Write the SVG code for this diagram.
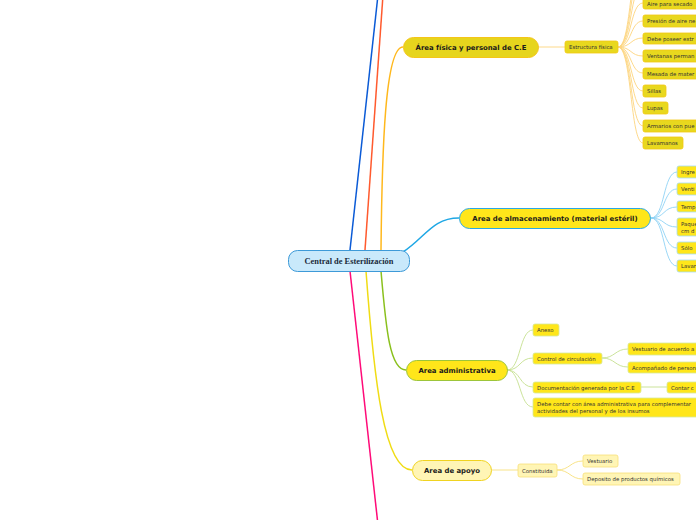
<svg xmlns="http://www.w3.org/2000/svg" width="696" height="520" viewBox="0 0 696 520">
<style>
.c{fill:none;stroke-width:1.5}
.s{fill:none;stroke-width:0.9}
.t{font-family:"DejaVu Sans",Verdana,sans-serif;font-size:5.4px;fill:#333;dominant-baseline:central}
.m{font-family:"DejaVu Sans",Verdana,sans-serif;font-size:6.9px;font-weight:bold;fill:#1a1a1a;text-anchor:middle;dominant-baseline:central}
.lf{fill:#e8d81e;stroke:#f2c811;stroke-width:0.8}
.la{fill:#ffe61a;stroke:#a5dcf5;stroke-width:0.8}
.ld{fill:#ffe61a;stroke:#d6e89c;stroke-width:0.8}
.lp{fill:#fff5b5;stroke:#f7e07a;stroke-width:0.8}
</style>
<rect width="696" height="520" fill="#fff"/>
<g id="connectors">
<path class="c" stroke="#0a5ad6" d="M350,250 L378,-5"/>
<path class="c" stroke="#ff5a2e" d="M365,250 L383,-5"/>
<path class="c" stroke="#ffb81c" d="M381,250 C382,150 385,47 403,47"/>
<path class="c" stroke="#1ea7e5" d="M403,252 C425,238 432,218 459,218"/>
<path class="c" stroke="#8ac01d" d="M381,271 C386,330 390,370 406,370"/>
<path class="c" stroke="#f0dc14" d="M366,271 C374,380 384,470 412,470"/>
<path class="c" stroke="#ff0a78" d="M350,271 L378,525"/>
<g stroke="#fdd57e">
<path class="s" d="M538,47 L565,47"/>
<path class="s" d="M618,47 C632,47 630,-50 643,-50"/>
<path class="s" d="M618,47 C632,47 630,-33 643,-33"/>
<path class="s" d="M618,47 C632,47 630,-15 643,-15"/>
<path class="s" d="M618,47 C632,47 630,3 643,3"/>
<path class="s" d="M618,47 C632,47 630,21 643,21"/>
<path class="s" d="M618,47 C632,47 630,38 643,38"/>
<path class="s" d="M618,47 C632,47 630,56 643,56"/>
<path class="s" d="M618,47 C632,47 630,73 643,73"/>
<path class="s" d="M618,47 C632,47 630,91 643,91"/>
<path class="s" d="M618,47 C632,47 630,108 643,108"/>
<path class="s" d="M618,47 C632,47 630,126 643,126"/>
<path class="s" d="M618,47 C632,47 630,143 643,143"/>
</g>
<g stroke="#8fd3f5">
<path class="s" d="M651,218 C665,218 663,172 677,172"/>
<path class="s" d="M651,218 C665,218 663,189 677,189"/>
<path class="s" d="M651,218 C665,218 663,207 677,207"/>
<path class="s" d="M651,218 C665,218 663,227 677,227"/>
<path class="s" d="M651,218 C665,218 663,248 677,248"/>
<path class="s" d="M651,218 C665,218 663,266 677,266"/>
</g>
<g stroke="#c5e08f">
<path class="s" d="M507,370 C521,370 519,330 533,330"/>
<path class="s" d="M507,370 C521,370 519,358 533,358"/>
<path class="s" d="M507,370 C521,370 519,387 533,387"/>
<path class="s" d="M507,370 C521,370 519,407 533,407"/>
<path class="s" d="M602,358 C615,358 615,349 628,349"/>
<path class="s" d="M602,358 C615,358 615,367 628,367"/>
<path class="s" d="M641,387 L667,387"/>
</g>
<g stroke="#f7e07a">
<path class="s" d="M492,470 L518,470"/>
<path class="s" d="M557,470 C570,470 570,461 583,461"/>
<path class="s" d="M557,470 C570,470 570,479 583,479"/>
</g>
</g>
<g id="central">
<rect x="288.5" y="250.5" width="121" height="21" rx="9" fill="#c9e9fb" stroke="#3d9ad8" stroke-width="1"/>
<text x="349" y="261" font-family="'Liberation Serif',serif" font-size="8.4" font-weight="bold" fill="#1a2a3a" text-anchor="middle" dominant-baseline="central">Central de Esterilización</text>
</g>
<g id="area-fisica">
<rect x="403.5" y="37.5" width="135" height="20" rx="10" fill="#e6d51d" stroke="#f5c518" stroke-width="1"/>
<text class="m" x="471" y="47.5">Área física y personal de C.E</text>
</g>
<g id="estructura-fisica"><rect class="lf" x="565" y="41" width="53" height="12" rx="2"/><text class="t" x="569" y="47">Estructura física</text></g>
<g id="f1"><rect class="lf" x="643" y="-2" width="70" height="11" rx="2"/><text class="t" x="647" y="3.5">Aire para secado</text></g>
<g id="f2"><rect class="lf" x="643" y="15" width="70" height="12" rx="2"/><text class="t" x="647" y="21">Presión de aire ne</text></g>
<g id="f3"><rect class="lf" x="643" y="33" width="70" height="11" rx="2"/><text class="t" x="647" y="38.5">Debe poseer extr</text></g>
<g id="f4"><rect class="lf" x="643" y="50" width="70" height="12" rx="2"/><text class="t" x="647" y="56">Ventanas perman</text></g>
<g id="f5"><rect class="lf" x="643" y="68" width="70" height="11" rx="2"/><text class="t" x="647" y="73.5">Mesada de mater</text></g>
<g id="f6"><rect class="lf" x="643" y="85" width="23" height="12" rx="2"/><text class="t" x="647" y="91">Sillas</text></g>
<g id="f7"><rect class="lf" x="643" y="102" width="25" height="12" rx="2"/><text class="t" x="647" y="108">Lupas</text></g>
<g id="f8"><rect class="lf" x="643" y="120" width="70" height="12" rx="2"/><text class="t" x="647" y="126">Armarios con pue</text></g>
<g id="f9"><rect class="lf" x="643" y="137" width="40" height="12" rx="2"/><text class="t" x="647" y="143">Lavamanos</text></g>
<g id="area-almacenamiento">
<rect x="459.5" y="208.5" width="191" height="20" rx="10" fill="#ffe61a" stroke="#2aa8e2" stroke-width="1"/>
<text class="m" x="555" y="218.5">Area de almacenamiento (material estéril)</text>
</g>
<g id="a1"><rect class="la" x="677" y="166" width="40" height="12" rx="2"/><text class="t" x="681" y="172">Ingre</text></g>
<g id="a2"><rect class="la" x="677" y="183" width="40" height="12" rx="2"/><text class="t" x="681" y="189">Venti</text></g>
<g id="a3"><rect class="la" x="677" y="201" width="40" height="11" rx="2"/><text class="t" x="681" y="206.5">Temp</text></g>
<g id="a4"><rect class="la" x="677" y="218" width="40" height="18" rx="2"/><text class="t" x="681" y="224">Paque</text><text class="t" x="681" y="230.5">cm d</text></g>
<g id="a5"><rect class="la" x="677" y="242" width="40" height="12" rx="2"/><text class="t" x="681" y="248">Sólo</text></g>
<g id="a6"><rect class="la" x="677" y="260" width="40" height="12" rx="2"/><text class="t" x="681" y="266">Lavar</text></g>
<g id="area-administrativa">
<rect x="406.5" y="360.5" width="101" height="20" rx="10" fill="#ffe61a" stroke="#9cc53a" stroke-width="1"/>
<text class="m" x="457" y="370.5">Area administrativa</text>
</g>
<g id="d1"><rect class="ld" x="533" y="324" width="26" height="12" rx="2"/><text class="t" x="537" y="330">Anexo</text></g>
<g id="d2"><rect class="ld" x="533" y="353" width="69" height="11" rx="2"/><text class="t" x="537" y="358.5">Control de circulación</text></g>
<g id="d2a"><rect class="ld" x="628" y="343" width="90" height="12" rx="2"/><text class="t" x="632" y="349">Vestuario de acuerdo a</text></g>
<g id="d2b"><rect class="ld" x="628" y="362" width="90" height="11" rx="2"/><text class="t" x="632" y="367.5">Acompañado de person</text></g>
<g id="d3"><rect class="ld" x="533" y="382" width="108" height="11" rx="2"/><text class="t" x="537" y="387.5">Documentación generada por la C.E</text></g>
<g id="d3a"><rect class="ld" x="667" y="382" width="50" height="11" rx="2"/><text class="t" x="671" y="387.5">Contar c</text></g>
<g id="d4"><rect class="ld" x="533" y="398" width="180" height="19" rx="2"/><text class="t" x="537" y="404">Debe contar con área administrativa para complementar</text><text class="t" x="537" y="411">actividades del personal y de los insumos</text></g>
<g id="area-apoyo">
<rect x="412.5" y="460.5" width="79" height="20" rx="10" fill="#fff5b5" stroke="#f0d320" stroke-width="1"/>
<text class="m" x="452" y="470.5">Area de apoyo</text>
</g>
<g id="p0"><rect class="lp" x="518" y="464" width="39" height="13" rx="2"/><text class="t" x="522" y="470.5">Constituida</text></g>
<g id="p1"><rect class="lp" x="583" y="455" width="35" height="12" rx="2"/><text class="t" x="587" y="461">Vestuario</text></g>
<g id="p2"><rect class="lp" x="583" y="473" width="97" height="12" rx="2"/><text class="t" x="587" y="479">Deposito de productos químicos</text></g>
</svg>
